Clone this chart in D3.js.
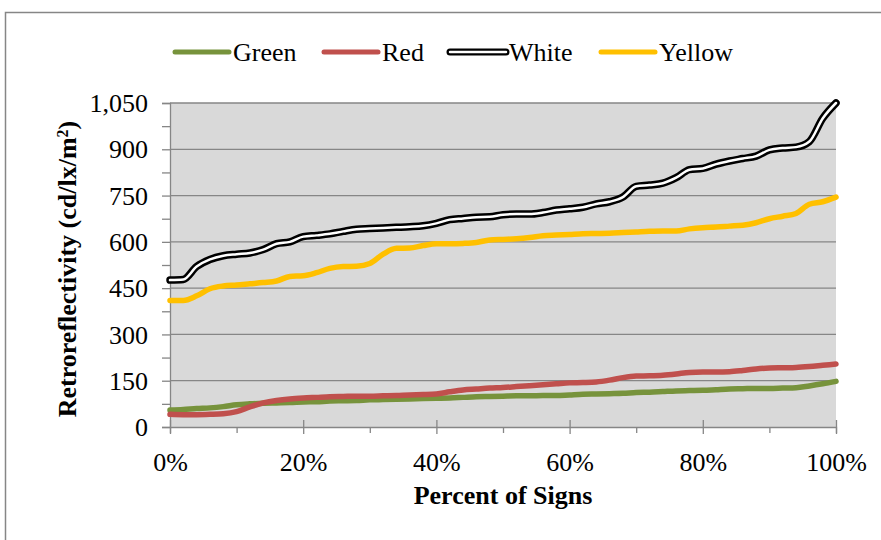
<!DOCTYPE html>
<html><head><meta charset="utf-8">
<script src="https://cdn.jsdelivr.net/npm/d3@7"></script>
<style>body{margin:0;background:#fff;} text{font-family:"Liberation Serif","Times New Roman",serif;}</style>
</head><body><svg id="c" width="881" height="540"></svg>
<script>
const percents = [0,2,4,6,8,10,12,14,16,18,20,22,24,26,28,30,32,34,36,38,40,42,44,46,48,50,52,54,56,58,60,62,64,66,68,70,72,74,76,78,80,82,84,86,88,90,92,94,96,98,100];
const green = [55,57,60,62,66,72,75,77,78,79,81,82,84,85,86,88,89,90,91,92,93,94,96,98,99,100,101,101,102,102,104,106,107,108,109,112,113,115,117,118,119,121,123,124,125,125,126,127,133,140,148];
const red = [41,40,40,41,43,50,65,78,86,91,94,96,98,99,100,100,101,102,104,105,107,114,120,123,126,128,131,134,137,140,143,144,146,152,160,165,166,168,172,177,178,178,179,183,188,191,192,193,196,200,204];
const white = [476,478,520,543,555,560,564,575,594,600,617,621,626,634,641,643,645,647,649,652,660,672,676,680,681,688,690,690,695,703,707,712,723,730,745,780,784,790,808,834,838,852,862,870,878,898,904,907,925,1000,1050];
const yellow = [410,410,425,448,457,460,464,468,473,488,490,500,514,520,521,530,560,579,580,588,594,594,595,598,606,608,610,614,620,622,624,626,627,628,630,632,634,635,635,642,646,648,651,654,662,675,683,692,722,730,745];
const seriesNames = ["Green","Red","White","Yellow"];
const seriesColors = ["#77933C","#C0504D","#000000","#FFC000"];
const yTicks = [0,150,300,450,600,750,900,1050];
const xTicks = [0,20,40,60,80,100];

const svg = d3.select("#c");
svg.append("rect").attr("x",5.5).attr("y",12.5).attr("width",900).attr("height",600)
  .attr("fill","none").attr("stroke","#868686").attr("stroke-width",1.5);

const L=170, R=836, T=103, B=427;
const x = d3.scaleLinear().domain([0,100]).range([L,R]);
const y = d3.scaleLinear().domain([0,1050]).range([B,T]);

svg.append("rect").attr("x",L).attr("y",T).attr("width",R-L).attr("height",B-T).attr("fill","#D9D9D9");

svg.append("g").selectAll("line").data(yTicks.filter(d=>d>0)).join("line")
  .attr("x1",L).attr("x2",R).attr("y1",d=>y(d)).attr("y2",d=>y(d))
  .attr("stroke","#868686").attr("stroke-width",1.3);

const yAxis = d3.axisLeft(y).tickValues(d3.range(0,1051,75)).tickSize(8)
  .tickFormat(d=> yTicks.includes(d) ? d3.format(",")(d) : "");
const gy = svg.append("g").attr("transform",`translate(${L},0)`).call(yAxis);
gy.select(".domain").attr("stroke","#868686").attr("stroke-width",1.3);
gy.selectAll(".tick line").attr("stroke","#868686").attr("stroke-width",1.3);
gy.selectAll(".tick text").attr("font-size",26).attr("fill","#000").attr("x",-22).attr("dy","0.33em")
  .attr("font-family","Liberation Serif, serif");

const xAxis = d3.axisBottom(x).tickValues(d3.range(0,101,10)).tickSize(6)
  .tickFormat(d=> xTicks.includes(d) ? d+"%" : "");
const gx = svg.append("g").attr("transform",`translate(0,${B})`).call(xAxis);
gx.select(".domain").attr("stroke","#868686").attr("stroke-width",1.3);
gx.selectAll(".tick line").attr("stroke","#868686").attr("stroke-width",1.3)
  .attr("y1",d=> xTicks.includes(d) ? -7 : 0).attr("y2",d=> xTicks.includes(d) ? 7 : 6);
gx.selectAll(".tick text").attr("font-size",26).attr("fill","#000").attr("y",44).attr("dy",0)
  .attr("font-family","Liberation Serif, serif");

const line = d3.line().x((d,i)=>x(percents[i])).y(d=>y(d)).curve(d3.curveMonotoneX);
const data = [green, red, white, yellow];
data.forEach((s,k)=>{
  if (seriesNames[k]==="White") {
    svg.append("path").attr("d",line(s)).attr("fill","none").attr("stroke","#000").attr("stroke-width",7.5).attr("stroke-linecap","round");
    svg.append("path").attr("d",line(s)).attr("fill","none").attr("stroke","#fff").attr("stroke-width",2.5).attr("stroke-linecap","round");
  } else {
    svg.append("path").attr("d",line(s)).attr("fill","none").attr("stroke",seriesColors[k]).attr("stroke-width",5.5).attr("stroke-linecap","round");
  }
});

const legX = [175, 324, 450, 601];
const lg = svg.append("g");
seriesNames.forEach((n,k)=>{
  const g = lg.append("g").attr("transform",`translate(${legX[k]},52)`);
  if (n==="White") {
    g.append("line").attr("x1",0).attr("x2",56).attr("stroke","#000").attr("stroke-width",7).attr("stroke-linecap","round");
    g.append("line").attr("x1",0).attr("x2",56).attr("stroke","#fff").attr("stroke-width",2.5).attr("stroke-linecap","round");
  } else {
    g.append("line").attr("x1",0).attr("x2",54).attr("stroke",seriesColors[k]).attr("stroke-width",5).attr("stroke-linecap","round");
  }
  g.append("text").attr("x",n==="White"?59:58).attr("y",8.5).attr("font-size",26).attr("fill","#000").text(n);
});

svg.append("text").attr("x",503).attr("y",504).attr("text-anchor","middle")
  .attr("font-size",26).attr("font-weight","bold").text("Percent of Signs");
const yt = svg.append("text").attr("transform","translate(76,269) rotate(-90)").attr("text-anchor","middle")
  .attr("font-size",26).attr("font-weight","bold");
yt.append("tspan").text("Retroreflectivity (cd/lx/m");
yt.append("tspan").attr("baseline-shift","super").attr("font-size",16).text("2");
yt.append("tspan").text(")");
</script></body></html>
